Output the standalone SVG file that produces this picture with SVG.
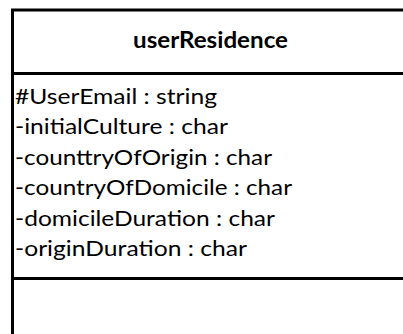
<svg xmlns="http://www.w3.org/2000/svg" width="403" height="334" viewBox="0 0 403 334">
  <style>
    .frame { fill: #ffffff; stroke: #000000; stroke-width: 3; }
    .sep { stroke: #000000; stroke-width: 3; }
    .title { font-family: Lato, "Open Sans", "Liberation Sans", sans-serif; font-size: 22px; font-weight: bold; fill: #000000; }
    .attr { font-family: Lato, "Open Sans", "Liberation Sans", sans-serif; font-size: 22px; fill: #000000; }
  </style>
  <rect width="403" height="334" fill="#ffffff"/>
  <g id="userResidence">
    <!-- class box runs off the right and bottom edges -->
    <rect class="frame" x="12.5" y="10" width="420" height="340"/>
    <line class="sep" x1="12.5" y1="73.5" x2="410" y2="73.5"/>
    <line class="sep" x1="12.5" y1="278.5" x2="410" y2="278.5"/>
    <text class="title" x="210.5" y="48" text-anchor="middle" textLength="155" lengthAdjust="spacingAndGlyphs">userResidence</text>
    <text class="attr" x="15" y="103.5" textLength="202" lengthAdjust="spacingAndGlyphs">#UserEmail : string</text>
    <text class="attr" x="15" y="134" textLength="213" lengthAdjust="spacingAndGlyphs">-initialCulture : char</text>
    <text class="attr" x="15" y="164.5" textLength="257" lengthAdjust="spacingAndGlyphs">-counttryOfOrigin : char</text>
    <text class="attr" x="15" y="195" textLength="277" lengthAdjust="spacingAndGlyphs">-countryOfDomicile : char</text>
    <text class="attr" x="15" y="225.5" textLength="260" lengthAdjust="spacingAndGlyphs">-domicileDuration : char</text>
    <text class="attr" x="15" y="256" textLength="232" lengthAdjust="spacingAndGlyphs">-originDuration : char</text>
  </g>
</svg>
